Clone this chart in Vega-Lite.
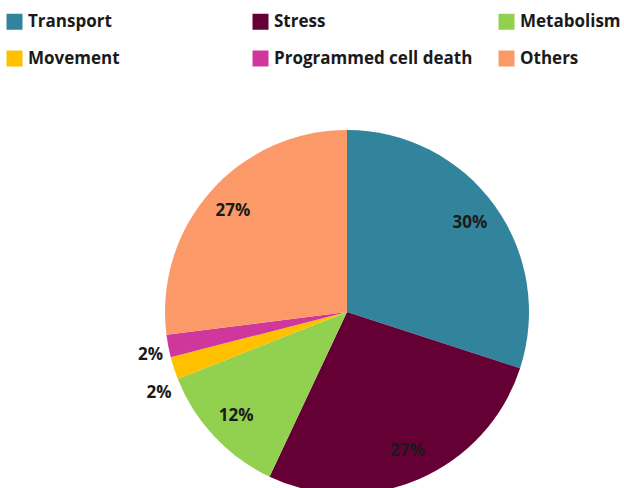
{
  "$schema": "https://vega.github.io/schema/vega-lite/v6.json",
  "width": 554,
  "height": 352,
  "autosize": {"type": "none"},
  "padding": {"left": 70, "top": 136, "right": 0, "bottom": 0},
  "background": "white",
  "data": {
    "values": [
      {"category": "Transport", "value": 30, "rank": 1},
      {"category": "Stress", "value": 27, "rank": 2},
      {"category": "Metabolism", "value": 12, "rank": 3},
      {"category": "Movement", "value": 2, "rank": 4},
      {"category": "Programmed cell death", "value": 2, "rank": 5},
      {"category": "Others", "value": 27, "rank": 6}
    ]
  },
  "transform": [{"calculate": "datum.value + '%'", "as": "label"}],
  "encoding": {
    "theta": {"field": "value", "type": "quantitative", "stack": true},
    "order": {"field": "rank", "type": "quantitative"}
  },
  "layer": [
    {
      "mark": {"type": "arc", "outerRadius": 182, "strokeWidth": 0},
      "encoding": {
        "color": {
          "field": "category",
          "type": "nominal",
          "scale": {
            "domain": ["Transport", "Stress", "Metabolism", "Movement", "Programmed cell death", "Others"],
            "range": ["#31849B", "#640034", "#92D050", "#FFC000", "#D0379C", "#FB9A68"]
          },
          "legend": {
            "orient": "none",
            "legendX": -64,
            "legendY": -123,
            "title": null,
            "columns": 3,
            "direction": "horizontal",
            "gridAlign": "all",
            "columnPadding": 25,
            "rowPadding": 19,
            "symbolType": "square",
            "symbolSize": 256,
            "symbolStrokeWidth": 0,
            "labelOffset": 5,
            "labelFont": "Open Sans",
            "labelFontWeight": "bold",
            "labelFontSize": 17,
            "labelColor": "#1a1a1a",
            "labelLimit": 300
          }
        }
      }
    },
    {
      "mark": {"type": "text", "radius": 152, "font": "Open Sans", "fontWeight": "bold", "fontSize": 17, "color": "#1a1a1a"},
      "encoding": {
        "text": {"field": "label"},
        "opacity": {"condition": {"test": "datum.rank <= 3 || datum.rank == 6", "value": 1}, "value": 0}
      }
    },
    {
      "mark": {"type": "text", "radius": 203, "dx": 3, "dy": 5, "font": "Open Sans", "fontWeight": "bold", "fontSize": 17, "color": "#1a1a1a"},
      "encoding": {
        "text": {"field": "label"},
        "opacity": {"condition": {"test": "datum.rank == 5", "value": 1}, "value": 0}
      }
    },
    {
      "mark": {"type": "text", "radius": 203, "dx": 5, "dy": 18, "font": "Open Sans", "fontWeight": "bold", "fontSize": 17, "color": "#1a1a1a"},
      "encoding": {
        "text": {"field": "label"},
        "opacity": {"condition": {"test": "datum.rank == 4", "value": 1}, "value": 0}
      }
    }
  ]
}
